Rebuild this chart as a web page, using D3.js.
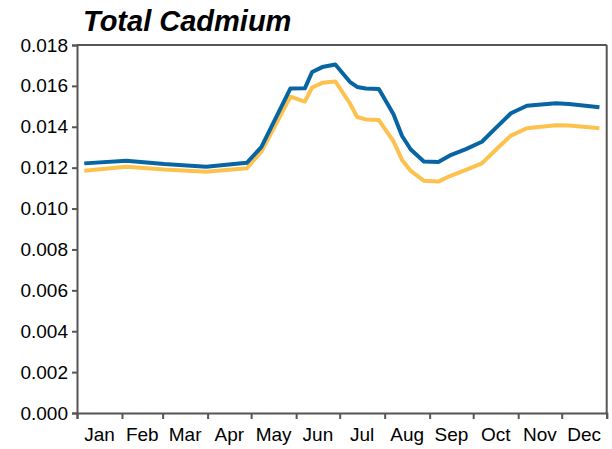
<!DOCTYPE html>
<html lang="en">
<head>
    <meta charset="utf-8" />
    <title>Total Cadmium</title>
    <script src="https://cdnjs.cloudflare.com/ajax/libs/d3/7.8.5/d3.min.js"></script>
    <style>
        body { margin: 0; background: white; }
        text { font-family: "Liberation Sans", Arial, sans-serif; fill: #000; }
        .title { font-size: 29px; font-weight: bold; font-style: italic; }
        .axis text { font-size: 19px; }
        .axis path, .axis line { stroke: #555; stroke-width: 2px; }
    </style>
</head>
<body>
<div id="chart"></div>
<script>
    // sample dates (2021 used as a plain calendar year)
    const dates = ["01-06", "02-04", "03-02", "03-31", "04-28", "05-08", "05-28", "06-07",
        "06-12", "06-19", "06-28", "07-08", "07-13", "07-19", "07-28", "08-07", "08-13",
        "08-19", "08-28", "09-07", "09-15", "09-26", "10-07", "10-17", "10-27", "11-07",
        "11-27", "12-06", "12-27"];
    const blueValues = [0.01221, 0.01234, 0.01218, 0.01205, 0.01224, 0.01300, 0.01587, 0.01588,
        0.01668, 0.01692, 0.01705, 0.01620, 0.01595, 0.01587, 0.01585, 0.01462, 0.01355,
        0.01289, 0.01230, 0.01228, 0.01260, 0.01291, 0.01327, 0.01397, 0.01466, 0.01503,
        0.01515, 0.01511, 0.01495];
    const yellowValues = [0.01185, 0.01205, 0.01191, 0.01180, 0.01197, 0.01278, 0.01547, 0.01523,
        0.01592, 0.01615, 0.01622, 0.01515, 0.01448, 0.01436, 0.01433, 0.01330, 0.01238,
        0.01184, 0.01136, 0.01132, 0.01159, 0.01189, 0.01221, 0.01290, 0.01357, 0.01393,
        0.01407, 0.01406, 0.01393];
    const yTicks = [0, 0.002, 0.004, 0.006, 0.008, 0.010, 0.012, 0.014, 0.016, 0.018];
    const monthLabels = ["Jan", "Feb", "Mar", "Apr", "May", "Jun", "Jul", "Aug", "Sep", "Oct", "Nov", "Dec"];

    const width = 612;
    const height = 449;
    const plotLeft = 77, plotRight = 606.7, plotTop = 45, plotBottom = 413;

    const svg = d3.select("#chart")
        .append("svg")
        .attr("width", width)
        .attr("height", height);

    const parse = d3.utcParse("%Y-%m-%d");
    const x = d3.scaleUtc()
        .domain([Date.UTC(2021, 0, 1), Date.UTC(2022, 0, 1)])
        .range([plotLeft, plotRight]);

    const y = d3.scaleLinear()
        .domain([0, 0.018])
        .range([plotBottom, plotTop]);

    // frame: top and right edges
    svg.append("line")
        .attr("x1", plotLeft).attr("x2", plotRight)
        .attr("y1", plotTop).attr("y2", plotTop)
        .attr("stroke", "#555").attr("stroke-width", 2);
    svg.append("line")
        .attr("x1", plotRight).attr("x2", plotRight)
        .attr("y1", plotTop).attr("y2", plotBottom)
        .attr("stroke", "#555").attr("stroke-width", 2);

    // y axis
    svg.append("g")
        .attr("class", "axis")
        .attr("transform", `translate(${plotLeft},0)`)
        .call(d3.axisLeft(y).tickValues(yTicks).tickFormat(d3.format(".3f")).tickSize(5).tickPadding(4));

    // x axis: ticks at month starts, labels in the middle of each month
    const monthStarts = d3.utcMonths(Date.UTC(2021, 0, 1), Date.UTC(2022, 0, 2));
    svg.append("g")
        .attr("class", "axis")
        .attr("transform", `translate(0,${plotBottom})`)
        .call(d3.axisBottom(x).tickValues(monthStarts).tickFormat("").tickSize(6));

    svg.append("g")
        .selectAll("text")
        .data(monthLabels)
        .join("text")
        .style("font-size", "19px")
        .attr("text-anchor", "middle")
        .attr("x", (d, i) => (x(monthStarts[i]) + x(monthStarts[i + 1])) / 2)
        .attr("y", plotBottom + 28)
        .text(d => d);

    const line = d3.line()
        .x(d => x(d.date))
        .y(d => y(d.value));

    const series = [
        { name: "yellow", color: "#fdc14e", values: yellowValues },
        { name: "blue", color: "#0765a3", values: blueValues }
    ];

    series.forEach(s => {
        const pts = dates.map((d, i) => ({ date: parse("2021-" + d), value: s.values[i] }));
        svg.append("path")
            .datum(pts)
            .attr("fill", "none")
            .attr("stroke", s.color)
            .attr("stroke-width", 4)
            .attr("stroke-linejoin", "round")
            .attr("d", line);
    });

    svg.append("text")
        .attr("class", "title")
        .attr("x", 83)
        .attr("y", 31)
        .text("Total Cadmium");
</script>
</body>
</html>
